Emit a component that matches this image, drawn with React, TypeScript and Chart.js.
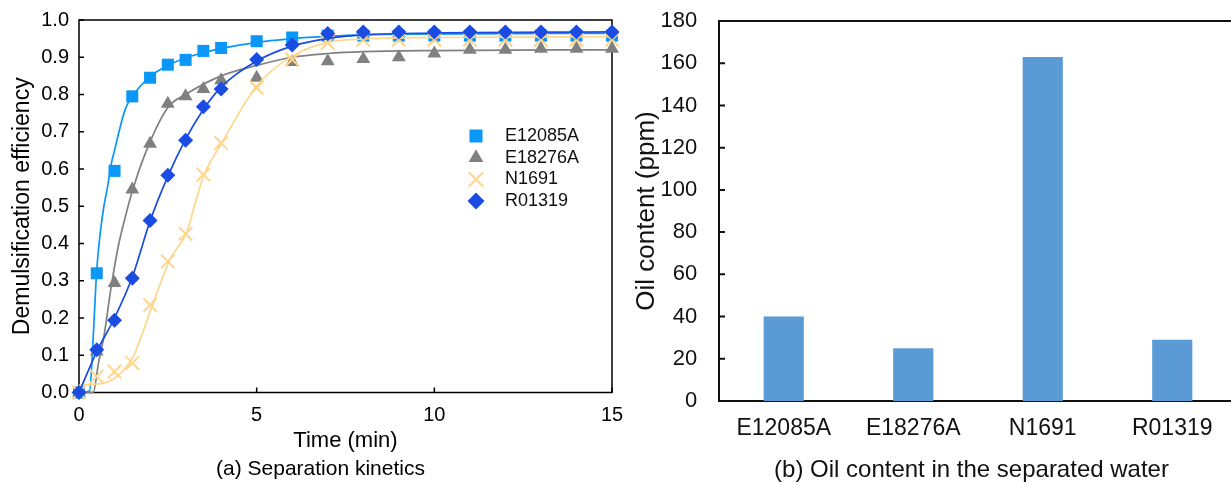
import React, { useEffect, useRef } from 'react';
import { Chart, registerables } from 'chart.js';

Chart.register(...registerables);

const FONT_FAMILY = "'Liberation Sans', Arial, Helvetica, sans-serif";

// ---------- (a) Separation kinetics: measured points ----------
const timeMin = [0, 0.5, 1, 1.5, 2, 2.5, 3, 3.5, 4, 5, 6, 7, 8, 9, 10, 11, 12, 13, 14, 15];
const effE12085A = [0, 0.32, 0.595, 0.795, 0.845, 0.88, 0.893, 0.917, 0.925, 0.943, 0.953, 0.958, 0.958, 0.958, 0.958, 0.958, 0.958, 0.958, 0.958, 0.958];
const effE18276A = [0, 0.11, 0.294, 0.545, 0.668, 0.775, 0.795, 0.815, 0.838, 0.845, 0.887, 0.889, 0.895, 0.9, 0.91, 0.92, 0.92, 0.923, 0.923, 0.923];
const effN1691 = [0, 0.043, 0.056, 0.079, 0.235, 0.352, 0.426, 0.585, 0.67, 0.818, 0.894, 0.939, 0.947, 0.947, 0.947, 0.947, 0.947, 0.947, 0.947, 0.947];
const effR01319 = [0, 0.115, 0.194, 0.307, 0.462, 0.583, 0.677, 0.767, 0.815, 0.894, 0.933, 0.964, 0.968, 0.968, 0.968, 0.968, 0.968, 0.968, 0.968, 0.968];

// ---------- (a) fitted curves ----------
const fitTimeE12085A = [0, 0.3, 0.4, 0.5, 0.6, 0.7, 0.8, 0.9, 1.0, 1.1, 1.3, 1.5, 2, 2.5, 3.4, 5, 6, 7, 9, 15];
const fitEffE12085A = [0, 0.005, 0.15, 0.33, 0.43, 0.5, 0.55, 0.61, 0.65, 0.69, 0.76, 0.795, 0.848, 0.878, 0.91, 0.94, 0.95, 0.956, 0.962, 0.964];
const fitTimeE18276A = [0, 0.4, 0.55, 0.7, 0.9, 1.1, 1.3, 1.5, 1.9, 2.5, 3, 4, 5, 6, 7, 8, 10, 15];
const fitEffE18276A = [0, 0, 0.08, 0.15, 0.28, 0.39, 0.47, 0.54, 0.65, 0.765, 0.8, 0.85, 0.878, 0.9, 0.91, 0.915, 0.918, 0.92];
const fitTimeN1691 = [0, 0.7, 1.07, 1.53, 2.05, 2.56, 3.03, 3.3, 3.5, 4.02, 5, 6, 7, 8, 10, 15];
const fitEffN1691 = [0.02, 0.025, 0.043, 0.097, 0.23, 0.357, 0.43, 0.518, 0.58, 0.67, 0.823, 0.903, 0.94, 0.949, 0.953, 0.955];
const fitTimeR01319 = [0, 0.5, 1, 1.5, 2, 2.5, 3, 3.5, 4, 5, 6, 7, 8, 10, 15];
const fitEffR01319 = [0, 0.11, 0.2, 0.31, 0.46, 0.58, 0.68, 0.76, 0.82, 0.89, 0.93, 0.95, 0.96, 0.965, 0.968];

// ---------- (b) Oil content in the separated water ----------
const samples = ['E12085A', 'E18276A', 'N1691', 'R01319'];
const oilContentPpm = [40, 25, 163, 29];

const COL_E12085A = '#0A97F7';
const COL_E18276A = '#808080';
const COL_N1691 = '#FFD58C';
const COL_R01319 = '#1A4CE4';
const COL_BAR = '#5B9BD5';

const pts = (xs: number[], ys: number[]) => xs.map((x, i) => ({ x, y: ys[i] }));

const framePlugin = {
  id: 'frame',
  beforeDatasetsDraw(chart: any, _args: any, opts: any) {
    const { ctx, chartArea: a } = chart;
    ctx.save();
    ctx.strokeStyle = opts.color || '#000';
    ctx.lineWidth = opts.lineWidth || 1.5;
    ctx.beginPath();
    if (opts.xTicks) {
      const sx = chart.scales.x;
      for (const t of sx.ticks) {
        const px = sx.getPixelForValue(t.value);
        ctx.moveTo(px, a.bottom);
        ctx.lineTo(px, a.bottom - opts.tickLen);
      }
    }
    if (opts.yTicks) {
      const sy = chart.scales.y;
      for (const t of sy.ticks) {
        const py = sy.getPixelForValue(t.value);
        ctx.moveTo(a.left, py);
        ctx.lineTo(a.left + opts.tickLen, py);
      }
    }
    ctx.stroke();
    ctx.strokeRect(a.left, a.top, a.right - a.left, a.bottom - a.top);
    ctx.restore();
  },
};

const captionPlugin = {
  id: 'caption',
  afterDraw(chart: any, _args: any, opts: any) {
    const { ctx } = chart;
    ctx.save();
    ctx.font = `${opts.size}px ${FONT_FAMILY}`;
    ctx.fillStyle = opts.color || '#000';
    ctx.textAlign = 'center';
    ctx.textBaseline = 'middle';
    ctx.fillText(opts.text, opts.x, opts.y);
    ctx.restore();
  },
};

function drawMarker(ctx: CanvasRenderingContext2D, style: string, x: number, y: number, r: number, color: string) {
  ctx.save();
  ctx.fillStyle = color;
  ctx.strokeStyle = color;
  ctx.beginPath();
  if (style === 'rect') {
    const s = Math.SQRT1_2 * r;
    ctx.rect(x - s, y - s, 2 * s, 2 * s);
    ctx.fill();
  } else if (style === 'triangle') {
    const a = (2 * Math.PI) / 3;
    ctx.moveTo(x, y - r);
    ctx.lineTo(x + Math.sin(a) * r, y - Math.cos(a) * r);
    ctx.lineTo(x + Math.sin(2 * a) * r, y - Math.cos(2 * a) * r);
    ctx.closePath();
    ctx.fill();
  } else if (style === 'crossRot') {
    const d = Math.SQRT1_2 * r;
    ctx.lineWidth = 2;
    ctx.moveTo(x - d, y - d);
    ctx.lineTo(x + d, y + d);
    ctx.moveTo(x - d, y + d);
    ctx.lineTo(x + d, y - d);
    ctx.stroke();
  } else {
    ctx.moveTo(x - r, y);
    ctx.lineTo(x, y - r);
    ctx.lineTo(x + r, y);
    ctx.lineTo(x, y + r);
    ctx.closePath();
    ctx.fill();
  }
  ctx.restore();
}

const insideLegendPlugin = {
  id: 'insideLegend',
  afterDatasetsDraw(chart: any) {
    const { ctx, chartArea: a } = chart;
    const items = chart.data.datasets.filter((d: any) => d.legendMarker);
    items.sort((p: any, q: any) => p.legendIndex - q.legendIndex);
    ctx.save();
    ctx.font = `18px ${FONT_FAMILY}`;
    ctx.textBaseline = 'middle';
    ctx.textAlign = 'left';
    items.forEach((d: any, i: number) => {
      const y = a.top + 116 + i * 21.7;
      const mx = a.left + 397;
      drawMarker(ctx, d.pointStyle, mx, y, d.legendRadius, d.pointBackgroundColor || d.borderColor);
      ctx.fillStyle = '#111';
      ctx.fillText(d.label, a.left + 426, y);
    });
    ctx.restore();
  },
};

const fixY = (w: number) => (s: any) => {
  s.width = w;
  s.paddingTop = 0;
  s.paddingBottom = 0;
};
const fixX = (h: number) => (s: any) => {
  s.height = h;
  s.paddingLeft = 0;
  s.paddingRight = 0;
};

function leftConfig(): any {
  const fitLine = (xs: number[], ys: number[], color: string, order: number) => ({
    label: '',
    data: pts(xs, ys),
    showLine: true,
    borderColor: color,
    borderWidth: 1.7,
    pointRadius: 0,
    cubicInterpolationMode: 'monotone',
    clip: false,
    order,
  });
  const markers = (label: string, ys: number[], style: string, color: string, radius: number, legendRadius: number, order: number, legendIndex: number) => ({
    label,
    data: pts(timeMin, ys),
    showLine: false,
    pointStyle: style,
    pointRadius: radius,
    pointHoverRadius: radius,
    pointBackgroundColor: color,
    pointBorderColor: color,
    pointBorderWidth: style === 'crossRot' ? 2 : 0,
    borderColor: color,
    clip: false,
    order,
    legendMarker: true,
    legendRadius,
    legendIndex,
  });
  return {
    type: 'scatter',
    data: {
      datasets: [
        markers('R01319', effR01319, 'rectRot', COL_R01319, 7.5, 8.5, 1, 3),
        fitLine(fitTimeR01319, fitEffR01319, COL_R01319, 2),
        markers('N1691', effN1691, 'crossRot', COL_N1691, 9.5, 10, 3, 2),
        fitLine(fitTimeN1691, fitEffN1691, COL_N1691, 4),
        markers('E18276A', effE18276A, 'triangle', COL_E18276A, 8, 8.5, 5, 1),
        fitLine(fitTimeE18276A, fitEffE18276A, COL_E18276A, 6),
        markers('E12085A', effE12085A, 'rect', COL_E12085A, 8.5, 9.2, 7, 0),
        fitLine(fitTimeE12085A, fitEffE12085A, COL_E12085A, 8),
      ],
    },
    options: {
      responsive: false,
      animation: false,
      devicePixelRatio: 1,
      layout: { padding: { top: 20, right: 18, left: 0, bottom: 29.5 } },
      plugins: {
        legend: { display: false },
        tooltip: { enabled: false },
        title: { display: false },
        caption: { text: '(a) Separation kinetics', x: 320.5, y: 469.5, size: 21, color: '#000' },
        frame: { lineWidth: 1.5, tickLen: 5, xTicks: true, yTicks: true, color: '#000' },
      },
      scales: {
        x: {
          type: 'linear',
          min: 0,
          max: 15,
          grid: { display: false, drawTicks: false },
          border: { display: false },
          ticks: { stepSize: 5, padding: 10.5, color: '#000', font: { size: 20 }, maxRotation: 0, minRotation: 0 },
          title: { display: true, text: 'Time (min)', color: '#000', font: { size: 22 }, padding: { top: 0, bottom: 0 } },
          afterFit: fixX(62),
        },
        y: {
          type: 'linear',
          min: 0,
          max: 1,
          grid: { display: false, drawTicks: false },
          border: { display: false },
          ticks: {
            stepSize: 0.1,
            autoSkip: false,
            padding: 10,
            color: '#000',
            font: { size: 20 },
            callback: (v: any) => Number(v).toFixed(1),
          },
          title: { display: true, text: 'Demulsification efficiency', color: '#000', font: { size: 23 }, padding: { top: 9, bottom: 0 } },
          afterFit: fixY(79),
        },
      },
    },
    plugins: [framePlugin, insideLegendPlugin, captionPlugin],
  };
}

function rightConfig(): any {
  return {
    type: 'bar',
    data: {
      labels: samples,
      datasets: [
        {
          label: 'Oil content',
          data: oilContentPpm,
          backgroundColor: COL_BAR,
          borderWidth: 0,
          barPercentage: 0.31,
          categoryPercentage: 1,
        },
      ],
    },
    options: {
      responsive: false,
      animation: false,
      devicePixelRatio: 1,
      layout: { padding: { top: 21, right: 13, left: 0, bottom: 39 } },
      plugins: {
        legend: { display: false },
        tooltip: { enabled: false },
        title: { display: false },
        caption: { text: '(b) Oil content in the separated water', x: 341.5, y: 470.5, size: 24, color: '#111' },
        frame: { lineWidth: 2, tickLen: 6, xTicks: false, yTicks: true, color: '#111' },
      },
      scales: {
        x: {
          type: 'category',
          grid: { display: false, drawTicks: false },
          border: { display: false },
          ticks: { padding: 14.2, color: '#111', font: { size: 23 }, maxRotation: 0, minRotation: 0, autoSkip: false },
          afterFit: fixX(44),
        },
        y: {
          type: 'linear',
          min: 0,
          max: 180,
          grid: { display: false, drawTicks: false },
          border: { display: false },
          ticks: { stepSize: 20, autoSkip: false, padding: 21.7, color: '#111', font: { size: 22 } },
          title: { display: true, text: 'Oil content (ppm)', color: '#111', font: { size: 26 }, padding: { top: 1, bottom: 0 } },
          afterFit: fixY(89),
        },
      },
    },
    plugins: [framePlugin, captionPlugin],
  };
}

export default function App() {
  const leftRef = useRef<HTMLCanvasElement>(null);
  const rightRef = useRef<HTMLCanvasElement>(null);

  useEffect(() => {
    Chart.defaults.font.family = FONT_FAMILY;
    Chart.defaults.color = '#000';
    const left = new Chart(leftRef.current as HTMLCanvasElement, leftConfig());
    const right = new Chart(rightRef.current as HTMLCanvasElement, rightConfig());
    return () => {
      left.destroy();
      right.destroy();
    };
  }, []);

  return (
    <div style={{ position: 'fixed', left: 0, top: 0, width: 1231, height: 484, overflow: 'hidden', background: '#fff' }}>
      <canvas ref={leftRef} width={630} height={484} style={{ position: 'absolute', left: 0, top: 0, width: 630, height: 484 }} />
      <canvas ref={rightRef} width={620} height={484} style={{ position: 'absolute', left: 630, top: 0, width: 620, height: 484 }} />
    </div>
  );
}
